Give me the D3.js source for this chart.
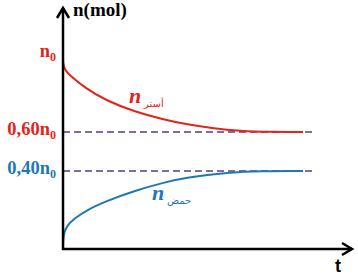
<!DOCTYPE html>
<html>
<head>
<meta charset="utf-8">
<script src="https://cdn.jsdelivr.net/npm/d3@7"></script>
<style>
  body { margin: 0; background: #fff; }
  svg { display: block; }
</style>
</head>
<body>
<svg width="358" height="279"></svg>
<script>
// temps (unité arbitraire) et quantités en fraction de n0
const tEster = [0, 0.02, 0.1, 0.29, 0.92, 1.75, 3.0, 4.25, 5.08, 6.2, 7.4, 8.6, 10];
const nEster = [0.962, 0.945, 0.915, 0.89, 0.826, 0.764, 0.703, 0.662, 0.641, 0.62, 0.605, 0.6, 0.6];
const tAcide = [0, 0.01, 0.05, 0.16, 0.45, 1.0, 1.75, 3.0, 4.25, 5.08, 6.96, 8.2, 10];
const nAcide = [0.015, 0.05, 0.085, 0.118, 0.155, 0.2, 0.243, 0.3, 0.342, 0.366, 0.393, 0.4, 0.4];
const niveaux = [0.6, 0.4];
const etiquettes = [
  { v: 1, txt: "n", col: "#e3231c" },
  { v: 0.6, txt: "0,60n", col: "#e3231c" },
  { v: 0.4, txt: "0,40n", col: "#1f78b4" }
];

const svg = d3.select("svg");
const x = d3.scaleLinear().domain([0, 12]).range([63, 351]);
const y = d3.scaleLinear().domain([0, 1]).range([249, 54]);

const ligne = d3.line().x(d => x(d[0])).y(d => y(d[1])).curve(d3.curveBasis);

// pointillés des niveaux limites
svg.selectAll(".niveau")
  .data(niveaux)
  .enter()
  .append("line")
  .attr("x1", x(0)).attr("x2", x(10.4))
  .attr("y1", d => y(d)).attr("y2", d => y(d))
  .attr("stroke", "#5a3d78")
  .attr("stroke-width", 1.6)
  .attr("stroke-dasharray", "7,4");

// courbes
svg.append("path")
  .attr("d", ligne(d3.zip(tEster, nEster)))
  .attr("fill", "none").attr("stroke", "#e3231c").attr("stroke-width", 2);
svg.append("path")
  .attr("d", ligne(d3.zip(tAcide, nAcide)))
  .attr("fill", "none").attr("stroke", "#1f78b4").attr("stroke-width", 2);

// axes avec flèches
svg.append("line").attr("x1", x(0)).attr("x2", x(0)).attr("y1", 250).attr("y2", 8)
  .attr("stroke", "#000").attr("stroke-width", 2.5);
svg.append("path").attr("d", `M${x(0) - 6},18 L${x(0)},8 L${x(0) + 6},18`)
  .attr("fill", "none").attr("stroke", "#000").attr("stroke-width", 2.5);
svg.append("line").attr("x1", x(0) - 1).attr("x2", 352).attr("y1", y(0)).attr("y2", y(0))
  .attr("stroke", "#000").attr("stroke-width", 2.5);
svg.append("path").attr("d", `M342,${y(0) - 6} L352,${y(0)} L342,${y(0) + 6}`)
  .attr("fill", "none").attr("stroke", "#000").attr("stroke-width", 2.5);

const serif = "'Liberation Serif', 'DejaVu Serif', serif";

svg.append("text").attr("x", 73).attr("y", 16)
  .attr("font-family", serif).attr("font-weight", "bold").attr("font-size", 19)
  .text("n(mol)");
svg.append("text").attr("x", 335).attr("y", 272)
  .attr("font-family", "'Liberation Sans', Arial, sans-serif").attr("font-weight", "bold").attr("font-size", 18)
  .text("t");

// étiquettes de l'axe vertical
const etq = svg.selectAll(".etq")
  .data(etiquettes)
  .enter()
  .append("text")
  .attr("text-anchor", "end")
  .attr("x", 56)
  .attr("y", d => y(d.v) + 3)
  .attr("font-family", serif).attr("font-weight", "bold").attr("font-size", 18.5)
  .attr("fill", d => d.col);
etq.append("tspan").text(d => d.txt);
etq.append("tspan").attr("dy", 4).attr("font-size", 12).text("0");

// noms des courbes
function nom(xp, yp, arabe, col) {
  const g = svg.append("g").attr("fill", col);
  g.append("text").attr("x", xp).attr("y", yp)
    .attr("font-family", serif).attr("font-style", "italic").attr("font-weight", "bold")
    .attr("font-size", 22).text("n");
  g.append("text").attr("x", xp + 15).attr("y", yp + 4)
    .attr("font-family", "'DejaVu Sans', sans-serif").attr("font-size", 10)
    .attr("direction", "rtl").attr("text-anchor", "end").text(arabe);
}
nom(129, 103, "أستر", "#e3231c");
nom(152, 200, "حمض", "#1f78b4");
</script>
</body>
</html>
